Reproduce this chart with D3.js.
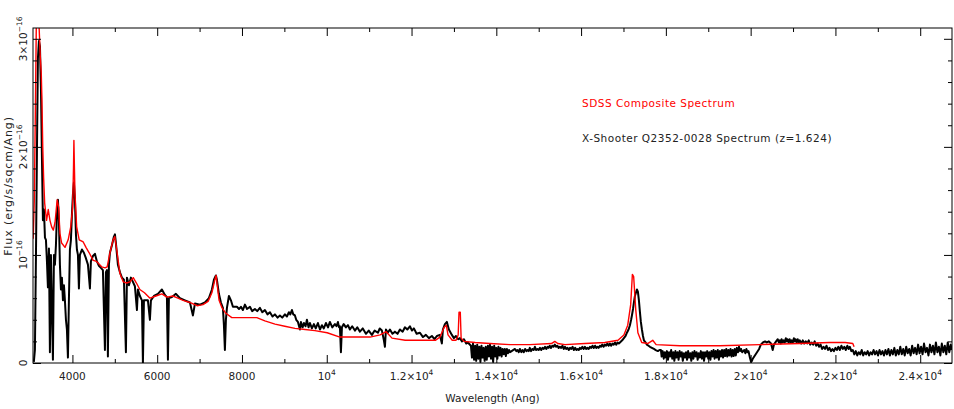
<!DOCTYPE html>
<html>
<head>
<meta charset="utf-8">
<script src="https://cdn.jsdelivr.net/npm/d3@7"></script>
<style>
  html, body { margin: 0; padding: 0; background: #fff; }
  text { font-family: "DejaVu Sans", sans-serif; }
</style>
</head>
<body>
<div id="chart"></div>
<script>
// 图像尺寸
const W = 954, H = 409;
const plot = {left: 33, right: 952, top: 28, bottom: 363};

// 坐标轴刻度
const xMajor = [4000, 6000, 8000, 10000, 12000, 14000, 16000, 18000, 20000, 22000, 24000];
const xMajorLabels = [["4000",""],["6000",""],["8000",""],["10","4"],["1.2×10","4"],["1.4×10","4"],
  ["1.6×10","4"],["1.8×10","4"],["2×10","4"],["2.2×10","4"],["2.4×10","4"]];
const xMinor = [5000, 7000, 9000, 11000, 13000, 15000, 17000, 19000, 21000, 23000];
const yMajor = [0, 1, 2, 3];           // 单位 1e-16
const yMajorLabels = [["0",""],["10","−16"],["2×10","−16"],["3×10","−16"]];
const yMinor = [0.2, 0.4, 0.6, 0.8, 1.2, 1.4, 1.6, 1.8, 2.2, 2.4, 2.6, 2.8];

// SDSS composite (红色) [波长, 流量/1e-16]
const sdss = [
  [3075,1.15],[3100,1.5],[3125,2.3],[3150,3.2],[3175,3.3],[3200,3.2],[3215,3.1],[3240,2.85],
  [3265,2.68],[3280,2.45],[3300,2.0],[3320,1.72],[3345,1.48],[3390,1.32],[3430,1.42],[3470,1.32],
  [3510,1.26],[3550,1.23],[3590,1.30],[3640,1.51],[3675,1.44],[3705,1.20],[3745,1.11],[3825,1.07],
  [3900,1.14],[3960,1.26],[4005,1.44],[4025,1.80],[4035,2.06],[4045,1.85],[4060,1.57],[4100,1.26],
  [4160,1.14],[4255,1.12],[4320,1.07],[4395,1.02],[4490,0.95],[4570,0.94],[4690,0.89],[4770,0.88],
  [4820,0.89],[4885,1.02],[4960,1.14],[5000,1.17],[5055,1.02],[5120,0.83],[5200,0.75],[5280,0.74],
  [5355,0.75],[5435,0.79],[5510,0.74],[5590,0.68],[5700,0.65],[5830,0.60],[5970,0.62],[6110,0.64],
  [6230,0.61],[6370,0.62],[6490,0.60],[6610,0.58],[6770,0.56],[6940,0.53],[7080,0.54],[7200,0.57],
  [7290,0.65],[7360,0.77],[7390,0.81],[7410,0.74],[7460,0.58],[7530,0.51],[7620,0.46],[7760,0.42],
  [7950,0.42],[8190,0.42],[8350,0.42],[8540,0.39],[8780,0.36],[9010,0.34],[9250,0.32],[9490,0.31],
  [9720,0.30],[10010,0.28],[10310,0.24],[10670,0.24],[11020,0.24],[11260,0.26],[11400,0.29],[11540,0.23],
  [11850,0.21],[12200,0.21],[12560,0.21],[12670,0.24],[12770,0.33],[12820,0.35],[12860,0.26],[12960,0.21],
  [13050,0.21],[13100,0.26],[13120,0.47],[13150,0.47],[13170,0.23],[13240,0.20],[13500,0.19],[13850,0.18],
  [14320,0.17],[14790,0.17],[15300,0.18],[15380,0.20],[15450,0.18],[15620,0.17],[16090,0.18],[16560,0.19],
  [16870,0.21],[17010,0.26],[17100,0.35],[17170,0.54],[17210,0.82],[17240,0.80],[17290,0.49],[17340,0.28],
  [17430,0.19],[17570,0.18],[17690,0.21],[17770,0.17],[18330,0.16],[19270,0.16],[20220,0.17],[21160,0.18],
  [21870,0.19],[22230,0.19],[22410,0.18],[22440,0.15]
];

// X-Shooter Q2352-0028 (黑色) - UVB/VIS 部分
const xshOptical = [
  [3090,0.01],[3115,0.12],[3140,1.0],[3163,1.95],[3186,2.82],[3210,2.98],[3234,2.93],[3257,2.55],
  [3281,1.9],[3304,1.32],[3328,1.42],[3352,1.16],[3375,1.14],[3399,0.94],[3422,0.70],[3446,1.06],
  [3469,0.10],[3493,1.00],[3517,0.49],[3540,0.03],[3564,1.00],[3587,0.91],[3611,1.09],[3634,1.37],
  [3658,1.51],[3682,1.31],[3705,0.91],[3729,0.68],[3752,0.79],[3776,0.58],[3800,0.72],[3823,0.58],
  [3847,0.40],[3870,0.31],[3894,0.05],[3917,0.58],[3941,1.05],[3965,1.14],[3988,1.37],[4012,1.56],
  [4035,1.67],[4059,1.51],[4083,1.19],[4106,1.05],[4130,1.00],[4153,0.69],[4177,1.00],[4224,1.05],
  [4271,1.02],[4318,0.97],[4366,0.91],[4413,0.69],[4436,0.94],[4484,0.99],[4531,1.01],[4578,0.94],
  [4625,0.90],[4672,0.88],[4719,0.86],[4767,0.12],[4790,0.84],[4814,0.86],[4837,0.06],[4861,0.91],
  [4885,1.02],[4932,1.09],[4979,1.17],[5003,1.19],[5026,1.11],[5073,0.91],[5121,0.84],[5168,0.79],
  [5215,0.77],[5262,0.10],[5286,0.79],[5333,0.72],[5380,0.79],[5427,0.75],[5474,0.71],[5522,0.49],
  [5545,0.68],[5592,0.62],[5640,0.58],[5663,0.00],[5687,0.58],[5734,0.58],[5781,0.58],[5828,0.40],
  [5852,0.58],[5923,0.62],[6017,0.64],[6111,0.68],[6182,0.63],[6229,0.61],[6253,0.03],[6276,0.60],
  [6347,0.61],[6442,0.64],[6536,0.60],[6654,0.58],[6772,0.56],[6843,0.44],[6890,0.55],[7008,0.54],
  [7126,0.56],[7220,0.60],[7291,0.68],[7338,0.77],[7385,0.81],[7409,0.77],[7456,0.64],[7503,0.56],
  [7550,0.51],[7574,0.35],[7597,0.12],[7621,0.40],[7645,0.51],[7692,0.62],[7739,0.58],[7786,0.52],
  [7881,0.52],[7930,0.50],[7975,0.52],[8020,0.49],[8070,0.54],[8120,0.50],[8188,0.52],[8240,0.48],
  [8305,0.50],[8360,0.48],[8423,0.51],[8480,0.47],[8541,0.49],[8600,0.45],[8659,0.47],[8720,0.43],
  [8777,0.45],[8840,0.42],[8895,0.44],[8950,0.42],[9013,0.45],[9060,0.43],[9107,0.47],[9140,0.45],
  [9178,0.49],[9210,0.45],[9249,0.44],[9280,0.40],[9320,0.38],[9367,0.31],[9391,0.38],[9430,0.33],
  [9461,0.37],[9500,0.34],[9532,0.40],[9570,0.33],[9603,0.37],[9650,0.32],[9697,0.36],[9740,0.32],
  [9791,0.37],[9840,0.31],[9886,0.35],[9930,0.32],[9980,0.37]
];

// X-Shooter - NIR 部分
const xshNir = [
  [10030,0.33],[10074,0.38],[10130,0.33],[10192,0.36],[10230,0.34],[10263,0.38],[10290,0.33],[10310,0.34],
  [10334,0.10],[10358,0.33],[10400,0.36],[10452,0.33],[10500,0.35],[10546,0.31],[10600,0.34],[10664,0.30],
  [10720,0.33],[10782,0.29],[10850,0.32],[10924,0.27],[10990,0.30],[11065,0.26],[11130,0.30],[11207,0.28],
  [11250,0.32],[11301,0.30],[11348,0.21],[11372,0.15],[11396,0.31],[11440,0.28],[11490,0.31],[11550,0.27],
  [11608,0.29],[11670,0.27],[11726,0.31],[11790,0.29],[11844,0.33],[11900,0.31],[11962,0.34],[12010,0.30],
  [12056,0.32],[12120,0.27],[12198,0.28],[12270,0.24],[12339,0.26],[12410,0.23],[12480,0.25],[12540,0.22],
  [12598,0.25],[12669,0.26],[12716,0.18],[12740,0.31],[12787,0.36],[12834,0.38],[12881,0.31],[12952,0.26],
  [13000,0.23],[13047,0.25],[13100,0.22],[13141,0.23],[13190,0.20],[13236,0.22],[13290,0.18],[13330,0.19],
  [13401,0.16],
  [13425,0.05],[13450,0.18],[13475,0.03],[13500,0.16],[13525,0.02],[13550,0.17],[13575,0.04],[13600,0.15],
  [13625,0.01],[13650,0.16],[13675,0.05],[13700,0.14],[13725,0.02],[13750,0.15],[13775,0.03],[13800,0.16],
  [13825,0.06],[13850,0.17],[13875,0.04],[13900,0.15],[13925,0.01],[13950,0.16],[13975,0.06],[14000,0.14],
  [14025,0.04],[14050,0.15],[14075,0.07],[14100,0.14],[14125,0.06],[14150,0.13],[14175,0.08],[14200,0.13],
  [14225,0.065],[14250,0.13],[14275,0.09],[14300,0.12],[14325,0.10],
  [14440,0.13],[14470,0.11],[14500,0.12],[14530,0.10],[14557,0.13],[14590,0.10],[14620,0.12],[14650,0.10],
  [14680,0.13],[14710,0.11],[14740,0.12],[14765,0.11],[14790,0.14],[14820,0.11],[14850,0.13],[14880,0.12],
  [14910,0.15],[14940,0.12],[14970,0.13],[15000,0.12],[15030,0.14],[15060,0.12],[15090,0.14],[15120,0.13],
  [15150,0.15],[15180,0.13],[15210,0.15],[15235,0.14],[15260,0.16],[15290,0.14],[15320,0.16],[15350,0.15],
  [15380,0.17],[15410,0.15],[15440,0.16],[15470,0.14],[15500,0.15],[15530,0.14],[15560,0.16],[15590,0.13],
  [15620,0.15],[15650,0.13],[15680,0.14],[15710,0.12],[15740,0.14],[15770,0.13],[15800,0.15],[15830,0.12],
  [15860,0.14],[15890,0.12],[15920,0.13],[15945,0.12],[15970,0.14],[16000,0.13],[16030,0.15],[16060,0.13],
  [16090,0.15],[16120,0.13],[16150,0.14],[16180,0.13],[16210,0.15],[16240,0.14],[16270,0.16],[16300,0.14],
  [16330,0.16],[16360,0.14],[16390,0.15],[16415,0.14],[16444,0.16],[16470,0.15],[16500,0.17],[16530,0.15],
  [16560,0.17],[16590,0.16],[16620,0.18],[16650,0.16],[16680,0.18],[16710,0.16],[16740,0.18],[16770,0.17],
  [16800,0.19],[16830,0.17],[16860,0.19],[16890,0.18],[16916,0.19],[16970,0.21],[17010,0.23],[17050,0.25],
  [17081,0.28],[17120,0.31],[17152,0.35],[17180,0.40],[17199,0.44],[17225,0.50],[17246,0.56],[17270,0.62],
  [17293,0.65],[17317,0.68],[17340,0.66],[17364,0.58],[17388,0.47],[17410,0.38],[17435,0.31],[17460,0.25],
  [17482,0.21],[17520,0.19],[17553,0.17],[17590,0.16],[17624,0.15],[17670,0.14],[17718,0.13],[17760,0.12],
  [17812,0.11],[17850,0.12],[17883,0.12],
  [17900,0.06],[17925,0.11],[17950,0.04],[17975,0.10],[18000,0.05],[18025,0.11],[18050,0.03],[18075,0.10],
  [18100,0.06],[18125,0.12],[18150,0.04],[18175,0.10],[18200,0.02],[18225,0.11],[18250,0.05],[18275,0.10],
  [18300,0.03],[18325,0.11],[18350,0.06],[18375,0.10],[18400,0.02],[18425,0.09],[18450,0.05],[18475,0.10],
  [18500,0.03],[18525,0.11],[18550,0.05],[18575,0.09],[18600,0.02],[18625,0.10],[18650,0.04],[18675,0.11],
  [18700,0.06],[18725,0.10],[18750,0.03],[18775,0.09],[18800,0.05],[18825,0.11],[18850,0.04],[18875,0.10],
  [18900,0.02],[18925,0.10],[18950,0.06],[18975,0.11],[19000,0.04],[19025,0.10],[19050,0.03],[19075,0.11],
  [19100,0.06],[19125,0.12],[19150,0.04],[19175,0.11],[19200,0.05],[19225,0.12],[19250,0.03],[19275,0.11],
  [19300,0.06],[19325,0.12],[19350,0.05],[19375,0.12],[19400,0.065],[19425,0.13],[19450,0.06],[19475,0.12],
  [19500,0.07],[19525,0.13],[19550,0.06],[19575,0.12],[19600,0.065],[19625,0.13],[19650,0.07],[19675,0.14],
  [19700,0.10],[19725,0.15],[19750,0.11],[19775,0.13],[19800,0.10],[19825,0.11],[19850,0.12],[19875,0.09],
  [19900,0.13],[19925,0.10],[19950,0.11],
  [19982,0.05],[20010,0.01],[20030,0.02],[20050,0.04],[20100,0.07],[20150,0.10],[20200,0.13],[20240,0.17],
  [20290,0.19],[20340,0.20],[20380,0.19],[20430,0.20],[20480,0.18],[20520,0.12],[20550,0.17],
  [20600,0.20],[20640,0.22],[20665,0.19],[20690,0.21],[20710,0.18],[20730,0.22],[20755,0.19],[20780,0.21],
  [20805,0.19],[20830,0.23],[20850,0.20],[20870,0.22],[20895,0.19],[20920,0.22],[20945,0.19],[20970,0.21],
  [20995,0.19],[21020,0.23],[21040,0.20],[21060,0.22],[21085,0.19],[21110,0.22],[21135,0.19],[21160,0.21],
  [21195,0.18],[21230,0.21],[21265,0.18],[21300,0.20],[21335,0.18],[21370,0.21],[21405,0.17],[21440,0.19],
  [21475,0.17],[21510,0.20],[21545,0.16],[21580,0.18],[21615,0.15],[21650,0.17],[21685,0.13],[21720,0.15],
  [21755,0.13],[21790,0.16],[21825,0.12],[21860,0.14],[21895,0.11],[21930,0.13],[21965,0.11],[22000,0.14],
  [22035,0.12],[22070,0.15],[22105,0.12],[22140,0.16],[22175,0.13],[22210,0.15],[22245,0.12],[22280,0.16],
  [22310,0.13],[22340,0.15],[22375,0.11],[22410,0.12],
  [22445,0.08],[22480,0.11],[22515,0.07],[22550,0.10],[22585,0.08],[22620,0.12],[22655,0.07],[22690,0.10],
  [22725,0.08],[22760,0.11],[22795,0.07],[22830,0.10],[22865,0.08],[22900,0.12],[22935,0.08],[22970,0.11],
  [23005,0.07],[23040,0.12],[23075,0.08],[23110,0.11],[23145,0.07],[23180,0.12],[23215,0.08],[23250,0.13],
  [23285,0.07],[23320,0.12],[23355,0.08],[23390,0.14],[23425,0.07],[23460,0.12],[23495,0.08],[23530,0.15],
  [23565,0.08],[23600,0.13],[23635,0.07],[23670,0.15],[23705,0.09],[23740,0.13],[23775,0.07],[23810,0.16],
  [23845,0.09],[23880,0.14],[23915,0.08],[23950,0.17],[23985,0.09],[24020,0.15],[24055,0.08],[24090,0.18],
  [24125,0.10],[24160,0.14],[24195,0.07],[24230,0.17],[24265,0.10],[24300,0.16],[24335,0.08],[24370,0.19],
  [24405,0.10],[24440,0.15],[24475,0.07],[24510,0.18],[24545,0.10],[24580,0.16],[24615,0.08],[24650,0.19],
  [24685,0.10],[24720,0.17],[24745,0.12]
];

const legendItems = [
  {label: "SDSS Composite Spectrum", color: "#ff0000"},
  {label: "X-Shooter Q2352-0028 Spectrum (z=1.624)", color: "#222"}
];

// 比例尺
const x = d3.scaleLinear().domain([3070, 24750]).range([plot.left, plot.right]);
const y = d3.scaleLinear().domain([0, 3.1]).range([plot.bottom, plot.top]);

const svg = d3.select("#chart").append("svg")
  .attr("width", W).attr("height", H);

svg.append("defs").append("clipPath").attr("id", "clip")
  .append("rect")
  .attr("x", plot.left).attr("y", plot.top)
  .attr("width", plot.right - plot.left).attr("height", plot.bottom - plot.top);

const line = d3.line().x(d => x(d[0])).y(d => y(d[1]));

const gLines = svg.append("g").attr("clip-path", "url(#clip)");

// 黑色光谱
gLines.append("path")
  .datum(xshOptical.concat(xshNir))
  .attr("fill", "none")
  .attr("stroke", "#000")
  .attr("stroke-width", 2)
  .attr("stroke-linejoin", "round")
  .attr("d", line);

// 红色光谱
gLines.append("path")
  .datum(sdss)
  .attr("fill", "none")
  .attr("stroke", "#ff0000")
  .attr("stroke-width", 1.4)
  .attr("stroke-linejoin", "round")
  .attr("d", line);

// 边框
svg.append("rect")
  .attr("x", plot.left).attr("y", plot.top)
  .attr("width", plot.right - plot.left).attr("height", plot.bottom - plot.top)
  .attr("fill", "none").attr("stroke", "#000").attr("stroke-width", 1);

// 刻度 (向内)
function ticks(axis, values, size, transform) {
  svg.append("g")
    .attr("transform", transform)
    .call(axis.tickValues(values).tickSize(-size).tickFormat(""))
    .call(g => g.select(".domain").remove())
    .call(g => g.selectAll(".tick line").attr("stroke", "#000"));
}
ticks(d3.axisBottom(x), xMajor, 8, `translate(0,${plot.bottom})`);
ticks(d3.axisBottom(x), xMinor, 4, `translate(0,${plot.bottom})`);
ticks(d3.axisTop(x), xMajor, 8, `translate(0,${plot.top})`);
ticks(d3.axisTop(x), xMinor, 4, `translate(0,${plot.top})`);
ticks(d3.axisLeft(y), yMajor, 8, `translate(${plot.left},0)`);
ticks(d3.axisLeft(y), yMinor, 4, `translate(${plot.left},0)`);
ticks(d3.axisRight(y), yMajor, 8, `translate(${plot.right},0)`);
ticks(d3.axisRight(y), yMinor, 4, `translate(${plot.right},0)`);

// 刻度标签, 带上标
function supLabel(sel, parts) {
  sel.append("tspan").text(parts[0]);
  if (parts[1]) {
    sel.append("tspan").attr("dy", -5).attr("font-size", 7.5).text(parts[1]);
  }
}

xMajor.forEach((v, i) => {
  const t = svg.append("text")
    .attr("x", x(v)).attr("y", 380)
    .attr("text-anchor", "middle")
    .attr("font-size", 10.5)
    .attr("fill", "#222");
  supLabel(t, xMajorLabels[i]);
});

yMajor.forEach((v, i) => {
  const t = svg.append("text")
    .attr("transform", `translate(27,${y(v)}) rotate(-90)`)
    .attr("text-anchor", "middle")
    .attr("font-size", 10.5)
    .attr("fill", "#222");
  supLabel(t, yMajorLabels[i]);
});

// 轴标题
svg.append("text")
  .attr("x", (plot.left + plot.right) / 2).attr("y", 402)
  .attr("text-anchor", "middle")
  .attr("font-size", 10.5).attr("fill", "#222")
  .text("Wavelength (Ang)");

svg.append("text")
  .attr("transform", `translate(12,186) rotate(-90)`)
  .attr("text-anchor", "middle")
  .attr("font-size", 11).attr("fill", "#222")
  .attr("letter-spacing", 0.9)
  .text("Flux (erg/s/sqcm/Ang)");

// 图例
svg.selectAll(".legend")
  .data(legendItems)
  .enter().append("text")
  .attr("class", "legend")
  .attr("x", 582)
  .attr("y", (d, i) => 107 + i * 35)
  .attr("font-size", 10.5)
  .attr("letter-spacing", 0.5)
  .attr("fill", d => d.color)
  .text(d => d.label);
</script>
</body>
</html>
